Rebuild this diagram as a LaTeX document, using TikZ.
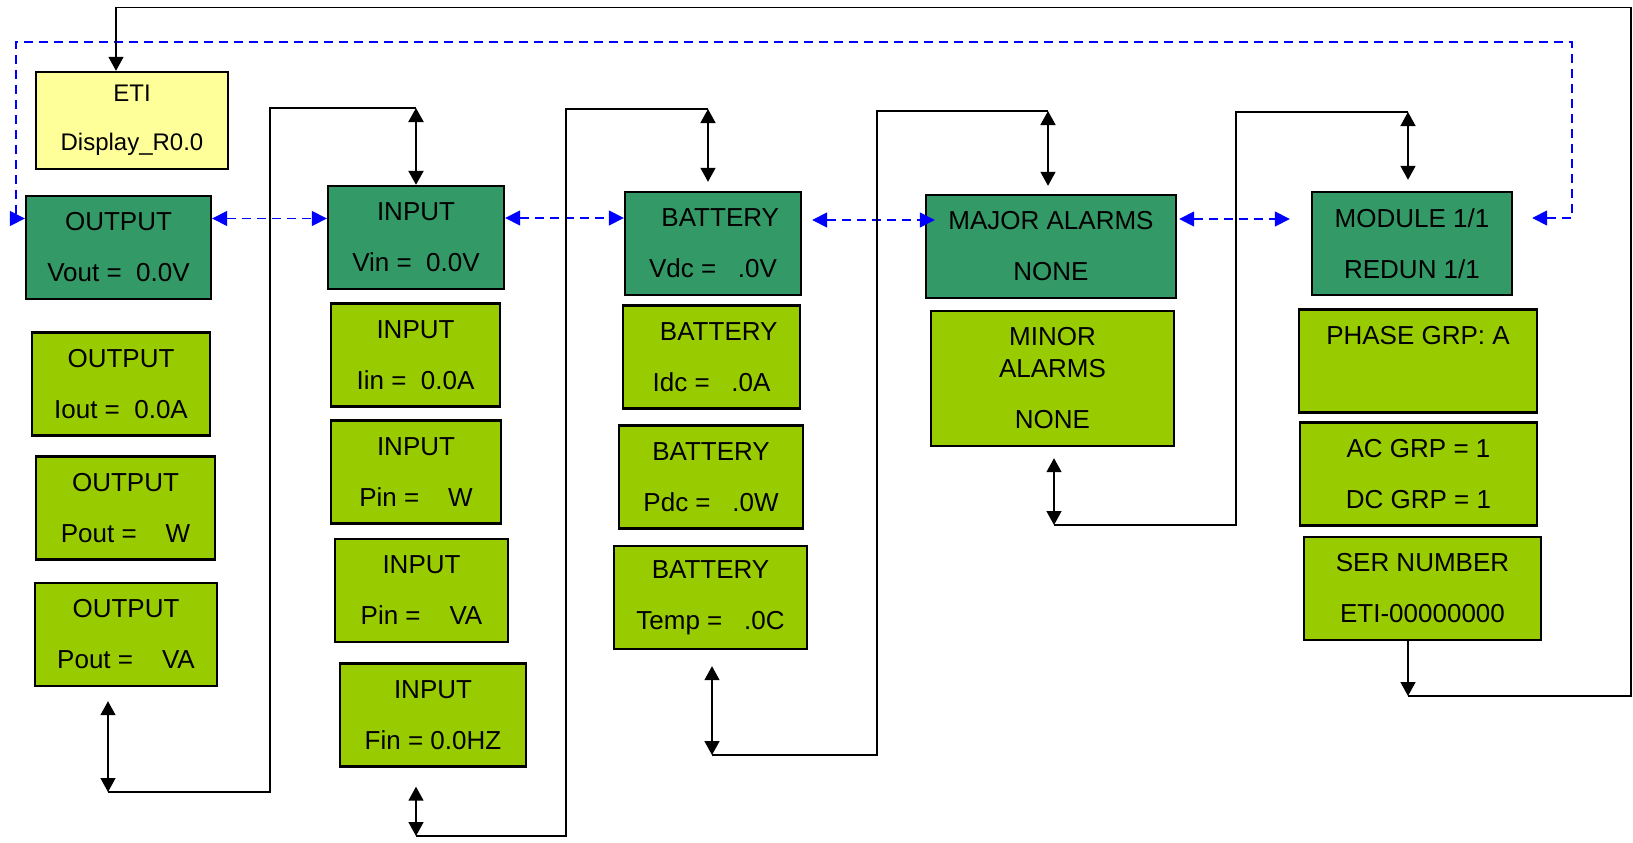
\documentclass[tikz,border=0pt]{standalone}
\usepackage{fontspec}
\setmainfont{Liberation Sans}
\usetikzlibrary{arrows.meta, positioning}
\definecolor{dkgreen}{HTML}{339966}
\definecolor{ltgreen}{HTML}{99CC00}
\definecolor{ltyellow}{HTML}{FFFF99}
\definecolor{navblue}{HTML}{0000FF}

\begin{document}
\begin{tikzpicture}[
    x=1pt, y=-1pt,
    box/.style={rectangle, draw, line width=2.4pt, inner sep=0pt, minimum height=103pt,
                align=center, font=\fontsize{26}{51}\selectfont},
    head/.style={box, fill=dkgreen},
    lcd/.style={box, fill=ltgreen},
    title/.style={box, fill=ltyellow, font=\fontsize{24}{49}\selectfont},
    wire/.style={line width=1.5pt},
    dbl/.style={{Triangle[length=14pt,width=15pt]}-{Triangle[length=14pt,width=15pt]}, wire},
    one/.style={-{Triangle[length=14pt,width=15pt]}, wire},
    nav/.style={{Triangle[length=15pt,width=15pt]}-{Triangle[length=15pt,width=15pt]},
                navblue, line width=1.6pt, dash pattern=on 9pt off 6pt},
  ]
  \useasboundingbox (0,0) rectangle (1633,843);
  \node[title, minimum width=192pt, minimum height=97pt] (eti) at (132,120.5) {ETI\\Display\_R0.0};
  \node[head, minimum width=185pt] (out)   at (118.5,247.5) {OUTPUT\\Vout =~~0.0V};
  \node[lcd,  minimum width=178pt] (outi)  at (121,384)     {OUTPUT\\Iout =~~0.0A};
  \node[lcd,  minimum width=179pt] (outw)  at (125.5,508)   {OUTPUT\\Pout =~~~~W};
  \node[lcd,  minimum width=182pt] (outva) at (126,634.5)   {OUTPUT\\Pout =~~~~VA};
  \node[head, minimum width=176pt] (in)    at (416,237.5)   {INPUT\\Vin =~~0.0V};
  \node[lcd,  minimum width=169pt] (ini)   at (415.5,355)   {INPUT\\Iin =~~0.0A};
  \node[lcd,  minimum width=170pt] (inw)   at (416,472)     {INPUT\\Pin =~~~~W};
  \node[lcd,  minimum width=173pt] (inva)  at (421.5,590.5) {INPUT\\Pin =~~~~VA};
  \node[lcd,  minimum width=186pt] (inf)   at (433,715)     {INPUT\\Fin = 0.0HZ};
  \node[head, minimum width=176pt] (bat)   at (713,243.5)   {~~BATTERY\\Vdc =~~~.0V};
  \node[lcd,  minimum width=177pt] (bati)  at (711.5,357)   {~~BATTERY\\Idc =~~~.0A};
  \node[lcd,  minimum width=184pt] (batp)  at (711,477)     {BATTERY\\Pdc =~~~.0W};
  \node[lcd,  minimum width=193pt] (batt)  at (710.5,597.5) {BATTERY\\Temp =~~~.0C};
  \node[head, minimum width=250pt] (maj)   at (1051,246.5)  {MAJOR ALARMS\\NONE};
  \node[lcd,  minimum width=243pt, minimum height=135pt] (minr) at (1052.5,378.5) {MINOR\\[-19pt]ALARMS\\NONE};
  \node[head, minimum width=200pt] (mod)   at (1412,243.5)  {MODULE 1/1\\REDUN 1/1};
  \node[lcd,  minimum width=238pt] (phase) at (1418,361)    {PHASE GRP: A\\\mbox{}};
  \node[lcd,  minimum width=237pt] (grp)   at (1418.5,474)  {AC GRP = 1\\DC GRP = 1};
  \node[lcd,  minimum width=237pt] (ser)   at (1422.5,588.5) {SER NUMBER\\ETI-00000000};

  \coordinate (navr) at (1572,42);
  \coordinate (navl) at (16,42);
  \coordinate (modin) at ([xshift=-23pt]mod.west);
  \draw[nav] ([yshift=29pt]out.east) -- ([yshift=29pt]out.east -| in.west);
  \draw[nav] ([yshift=19.5pt]in.east) -- ([yshift=19.5pt]in.east -| bat.west);
  \draw[nav] ([xshift=10pt,yshift=23.5pt]bat.east) -- ([xshift=10pt,yshift=23.5pt]bat.east -| maj.west);
  \draw[nav] ([xshift=2pt,yshift=27.5pt]maj.east) -- ([xshift=2pt,yshift=27.5pt]maj.east -| modin);
  \draw[nav] ([xshift=19pt,yshift=25.5pt]mod.east) -| (navr) -- (navl) |- ([yshift=29pt]out.west);

  \coordinate (a1) at (108,792);
  \coordinate (a2) at (416,108);
  \draw[dbl] ([xshift=-18pt,yshift=-14pt]outva.south) -- (a1);
  \draw[wire] (a1) -- ++(162,0) |- (a2);
  \draw[dbl, line width=2.2pt] (a2) -- (in.north);

  \coordinate (b1) at (416,836);
  \coordinate (b2) at (708,109);
  \draw[dbl] ([xshift=-17pt,yshift=-19pt]inf.south) -- (b1);
  \draw[wire] (b1) -- ++(150,0) |- (b2);
  \draw[dbl] (b2) -- ([xshift=-5pt,yshift=9pt]bat.north);

  \coordinate (c1) at (712,755);
  \coordinate (c2) at (1048,111);
  \draw[dbl] ([xshift=1.5pt,yshift=-16pt]batt.south) -- (c1);
  \draw[wire] (c1) -- ++(165,0) |- (c2);
  \draw[dbl] (c2) -- ([xshift=-3pt,yshift=8pt]maj.north);

  \coordinate (d1) at (1054,525);
  \coordinate (d2) at (1408,112);
  \draw[dbl] ([xshift=1.5pt,yshift=-11pt]minr.south) -- (d1);
  \draw[wire] (d1) -- ++(182,0) |- (d2);
  \draw[dbl] (d2) -- ([xshift=-4pt,yshift=11pt]mod.north);

  \coordinate (e1) at (1408,696);
  \coordinate (e2) at (1631,7.5);
  \draw[one] ([xshift=-14.5pt]ser.south) -- (e1);
  \draw[one] (e1) -| (e2) -| ([xshift=-16pt]eti.north);
\end{tikzpicture}
\end{document}
